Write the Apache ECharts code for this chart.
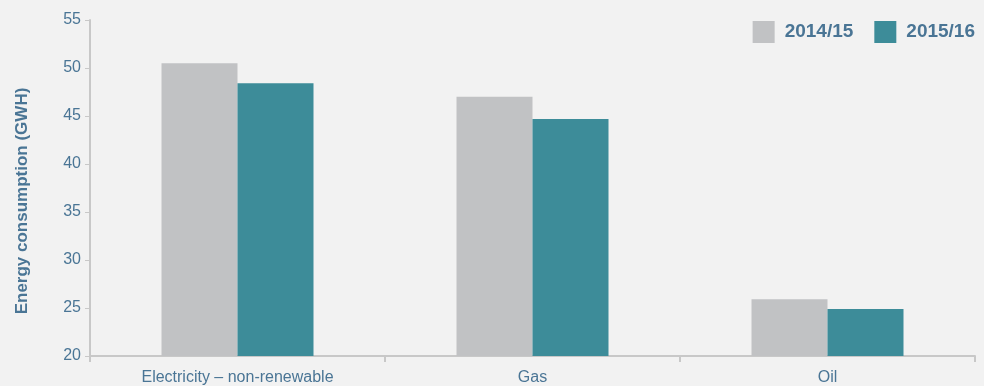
<!DOCTYPE html>
<html>
<head>
<meta charset="utf-8">
<script src="https://cdn.jsdelivr.net/npm/echarts@6/dist/echarts.min.js"></script>
<style>
html,body{margin:0;padding:0;background:#f2f2f2;}
#c{width:984px;height:386px;}
</style>
</head>
<body>
<div id="c"></div>
<script>
const categories = ['Electricity – non-renewable', 'Gas', 'Oil'];
const seriesNames = ['2014/15', '2015/16'];
const values2014 = [50.5, 47.0, 25.9];
const values2015 = [48.4, 44.7, 24.9];
const yTicks = [20, 25, 30, 35, 40, 45, 50, 55];

const textColor = '#4a7595';
const axisColor = '#c8c8c8';
const chart = echarts.init(document.getElementById('c'));
chart.setOption({
  backgroundColor: '#f2f2f2',
  animation: false,
  textStyle: { fontFamily: 'Liberation Sans, Arial, sans-serif' },
  grid: { left: 90, right: 9, top: 20, bottom: 30 },
  legend: {
    right: 4, top: 16,
    itemWidth: 22, itemHeight: 22, itemGap: 21,
    icon: 'rect',
    textStyle: { color: textColor, fontSize: 19, fontWeight: 'bold', padding: [0,0,0,5] },
    data: seriesNames
  },
  xAxis: {
    type: 'category',
    data: categories,
    axisLine: { lineStyle: { color: axisColor, width: 2 } },
    axisTick: { show: true, length: 6, lineStyle: { color: axisColor, width: 2 } },
    axisLabel: { color: textColor, fontSize: 16, margin: 14 }
  },
  yAxis: {
    type: 'value',
    min: yTicks[0], max: yTicks[yTicks.length - 1], interval: 5,
    name: 'Energy consumption (GWH)',
    nameLocation: 'middle',
    nameGap: 59,
    nameTextStyle: { color: textColor, fontSize: 17, fontWeight: 'bold', padding: [0, 26, 0, 0] },
    axisLine: { show: true, lineStyle: { color: axisColor, width: 2 } },
    axisTick: { show: true, length: 5, lineStyle: { color: axisColor, width: 1 } },
    axisLabel: { color: textColor, fontSize: 16, margin: 9 },
    splitLine: { show: false }
  },
  series: [
    { name: seriesNames[0], type: 'bar', data: values2014, barWidth: 76, barGap: '0%',
      itemStyle: { color: '#c1c2c4' } },
    { name: seriesNames[1], type: 'bar', data: values2015, barWidth: 76, barGap: '0%',
      itemStyle: { color: '#3d8c99' } }
  ]
});
</script>
</body>
</html>
